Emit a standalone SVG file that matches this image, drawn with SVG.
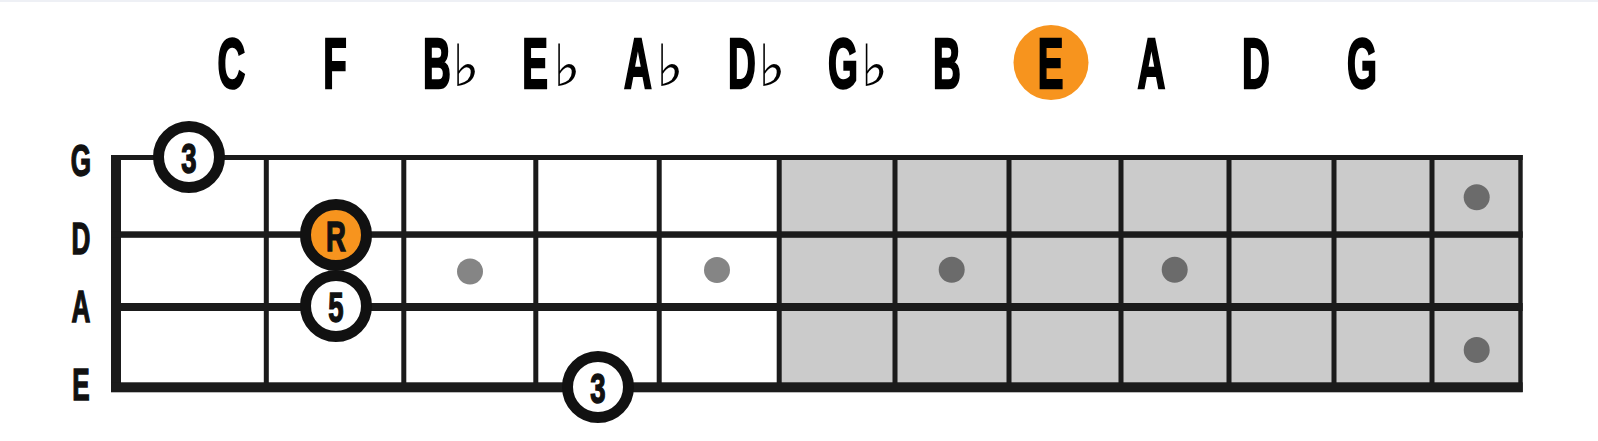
<svg xmlns="http://www.w3.org/2000/svg" width="1598" height="441" viewBox="0 0 1598 441">
  <style>
    .note { font-family: "Liberation Sans", Arial, sans-serif; font-weight: bold; font-size: 70px; fill: #000; stroke: #000; stroke-width: 2.5; text-anchor: middle; }
    .flat { font-family: "DejaVu Sans", sans-serif; font-style: italic; font-size: 58px; fill: #000; text-anchor: middle; }
    .str { font-family: "Liberation Sans", Arial, sans-serif; font-weight: bold; font-size: 45px; fill: #111; stroke: #111; stroke-width: 1.5; text-anchor: middle; }
    .deg { font-family: "Liberation Sans", Arial, sans-serif; font-weight: bold; font-size: 43px; fill: #111; stroke: #111; stroke-width: 1.5; text-anchor: middle; }
    .line { fill: #1b1b1b; }
    .ring { fill: #fff; stroke: #111; stroke-width: 11; }
    .root { fill: #F7941E; }
    .dot { fill: #858585; }
    .dotd { fill: #6b6b6b; }
  </style>
  <rect x="0" y="0" width="1598" height="441" fill="#fff"/>
  <rect x="0" y="0" width="1598" height="2" fill="#eef0f5"/>

  <g id="note-names">
    <circle cx="1051" cy="62.5" r="37.5" class="root"/>
    <text class="note" transform="translate(231.5,87.5) scale(0.55,1)">C</text>
    <text class="note" transform="translate(335,87.5) scale(0.55,1)">F</text>
    <text class="note" transform="translate(437,87.5) scale(0.55,1)">B</text>
    <text class="flat" x="466" y="86">♭</text>
    <text class="note" transform="translate(535,87.5) scale(0.55,1)">E</text>
    <text class="flat" x="567" y="86">♭</text>
    <text class="note" transform="translate(638,87.5) scale(0.55,1)">A</text>
    <text class="flat" x="670" y="86">♭</text>
    <text class="note" transform="translate(742,87.5) scale(0.55,1)">D</text>
    <text class="flat" x="772" y="86">♭</text>
    <text class="note" transform="translate(843,87.5) scale(0.55,1)">G</text>
    <text class="flat" x="874.5" y="86">♭</text>
    <text class="note" transform="translate(947,87.5) scale(0.55,1)">B</text>
    <text class="note" transform="translate(1050.5,87.5) scale(0.55,1)">E</text>
    <text class="note" transform="translate(1151.5,87.5) scale(0.55,1)">A</text>
    <text class="note" transform="translate(1256,87.5) scale(0.55,1)">D</text>
    <text class="note" transform="translate(1362,87.5) scale(0.55,1)">G</text>
  </g>

  <g id="string-labels">
    <text class="str" transform="translate(81,176) scale(0.58,1)">G</text>
    <text class="str" transform="translate(81,254) scale(0.58,1)">D</text>
    <text class="str" transform="translate(81,322) scale(0.58,1)">A</text>
    <text class="str" transform="translate(81,400) scale(0.58,1)">E</text>
  </g>

  <g id="fretboard">
    <rect x="779" y="157" width="741" height="230" fill="#cbcbcb"/>
    <g id="dots">
      <circle cx="470" cy="271.5" r="13" class="dot"/>
      <circle cx="717" cy="270" r="13" class="dot"/>
      <circle cx="951.7" cy="269.7" r="13" class="dotd"/>
      <circle cx="1174.7" cy="269.7" r="13" class="dotd"/>
      <circle cx="1476.7" cy="197.3" r="13" class="dotd"/>
      <circle cx="1476.7" cy="350" r="13" class="dotd"/>
    </g>
    <g id="frets">
      <rect class="line" x="263.8" y="155" width="5" height="237"/>
      <rect class="line" x="401.3" y="155" width="5" height="237"/>
      <rect class="line" x="533.3" y="155" width="5" height="237"/>
      <rect class="line" x="656.7" y="155" width="5" height="237"/>
      <rect class="line" x="776.7" y="155" width="5" height="237"/>
      <rect class="line" x="892.5" y="155" width="5" height="237"/>
      <rect class="line" x="1006.5" y="155" width="5" height="237"/>
      <rect class="line" x="1118.5" y="155" width="5" height="237"/>
      <rect class="line" x="1226.5" y="155" width="5" height="237"/>
      <rect class="line" x="1331.5" y="155" width="5" height="237"/>
      <rect class="line" x="1429.5" y="155" width="5" height="237"/>
      <rect class="line" x="1518.3" y="155" width="4.4" height="237"/>
      <rect class="line" x="111" y="155" width="10" height="237"/>
    </g>
    <g id="strings">
      <rect class="line" x="111" y="155" width="1411.7" height="5"/>
      <rect class="line" x="111" y="231.3" width="1411.7" height="6.5"/>
      <rect class="line" x="111" y="303" width="1411.7" height="8"/>
      <rect class="line" x="111" y="382.3" width="1411.7" height="10"/>
    </g>
  </g>

  <g id="note-g3">
    <circle cx="189" cy="157" r="30.5" class="ring"/>
    <text class="deg" transform="translate(189,172.5) scale(0.64,1)">3</text>
  </g>
  <g id="note-root">
    <circle cx="336" cy="235" r="30.5" class="ring" style="fill:#F7941E"/>
    <text class="deg" transform="translate(336,250.5) scale(0.64,1)">R</text>
  </g>
  <g id="note-a5">
    <circle cx="336" cy="306" r="30.5" class="ring"/>
    <text class="deg" transform="translate(336,321.5) scale(0.64,1)">5</text>
  </g>
  <g id="note-e3">
    <circle cx="598" cy="387" r="30.5" class="ring"/>
    <text class="deg" transform="translate(598,402.5) scale(0.64,1)">3</text>
  </g>
</svg>
